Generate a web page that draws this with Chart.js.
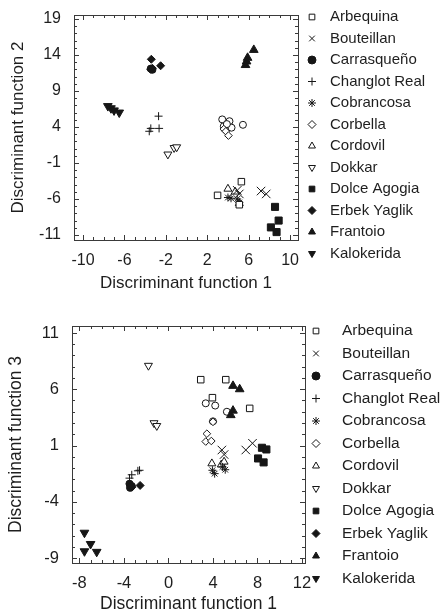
<!DOCTYPE html>
<html>
<head>
<meta charset="utf-8">
<script src="https://cdn.jsdelivr.net/npm/chart.js@4.4.1/dist/chart.umd.min.js"></script>
<style>
  html, body { margin: 0; padding: 0; background: #fff; }
  .panel { position: absolute; left: 0; width: 440px; }
  #top { top: 0; height: 300px; }
  #bottom { top: 300px; height: 316px; }
</style>
</head>
<body>
<div class="panel" id="top"><canvas id="chart1" width="440" height="300"></canvas></div>
<div class="panel" id="bottom"><canvas id="chart2" width="440" height="316"></canvas></div>
<script>
const varieties = ['Arbequina', 'Bouteillan', 'Carrasqueño', 'Changlot Real', 'Cobrancosa', 'Corbella',
    'Cordovil', 'Dokkar', 'Dolce Agogia', 'Erbek Yaglik', 'Frantoio', 'Kalokerida'];

// discriminant function 1 (x) vs function 2 (y)
const p1Arbequina = [[3.0, -5.5], [5.3, -3.6], [5.1, -6.8]];
const p1Bouteillan = [[4.9, -4.8], [5.1, -5.3], [7.2, -4.9], [7.7, -5.3]];
const p1Carrasqueno = [[-3.45, 12.1], [-3.3, 11.95]];
const p1Changlot = [[-2.7, 5.5], [-3.45, 3.8], [-2.65, 3.8], [-3.6, 3.4]];
const p1Cobrancosa = [[4.0, -5.8], [4.3, -5.9], [4.9, -6.0], [5.1, -6.5]];
const p1Corbella = [[3.6, 3.7], [3.8, 3.4], [4.05, 2.8]];
const p1Cordovil = [[4.0, -4.6], [4.7, -5.0], [5.1, -6.6]];
const p1Dokkar = [[-1.8, 0.2], [-1.2, 1.1], [-0.95, 1.2]];
const p1Dolce = [[8.55, -7.1], [8.9, -9.0], [8.15, -9.95], [8.7, -10.6]];
const p1Erbek = [[-3.4, 13.4], [-3.45, 12.0], [-3.3, 12.15], [-2.5, 12.5]];
const p1Frantoio = [[6.5, 14.7], [5.9, 13.6], [5.8, 13.1], [5.7, 12.6]];
const p1Kalokerida = [[-7.6, 6.9], [-7.3, 6.6], [-7.0, 6.3], [-6.5, 6.0]];
const p1OpenCircles = [[3.45, 5.05], [4.15, 4.8], [3.6, 4.1], [4.35, 3.9], [5.45, 4.3], [3.9, 4.4]];

// discriminant function 1 (x) vs function 3 (y)
const p2Arbequina = [[2.9, 6.85], [5.15, 6.85], [3.95, 5.25], [7.3, 4.3]];
const p2Bouteillan = [[4.8, 0.6], [5.0, 0.2], [6.95, 0.6], [7.55, 1.2]];
const p2Carrasqueno = [[-3.5, -2.4], [-3.45, -2.75], [-3.3, -2.6]];
const p2Changlot = [[-3.5, -1.9], [-3.3, -1.6], [-2.75, -1.25], [-2.6, -1.2]];
const p2Cobrancosa = [[3.95, -1.2], [4.15, -1.5], [4.85, -0.9], [5.1, -1.15]];
const p2Corbella = [[3.45, 2.05], [3.35, 1.35], [3.85, 1.4], [4.0, 3.1]];
const p2Cordovil = [[3.9, -0.6], [4.75, -0.7], [5.0, -0.45]];
const p2Dokkar = [[-1.8, 8.1], [-1.3, 3.0], [-1.05, 2.75]];
const p2Dolce = [[8.4, 0.8], [8.8, 0.65], [8.05, -0.15], [8.55, -0.5]];
const p2Erbek = [[-2.55, -2.55], [-3.4, -2.5], [-3.3, -2.7]];
const p2Frantoio = [[5.8, 6.3], [6.4, 6.0], [5.8, 4.1], [5.6, 3.7]];
const p2Kalokerida = [[-7.55, -6.75], [-7.0, -7.75], [-7.55, -8.4], [-6.45, -8.45]];
const p2OpenCircles = [[3.35, 4.75], [4.2, 4.55], [5.25, 4.0], [4.0, 3.15]];

const p1XTicks = [-10, -6, -2, 2, 6, 10];
const p1YTicks = [-11, -6, -1, 4, 9, 14, 19];
const p2XTicks = [-8, -4, 0, 4, 8, 12];
const p2YTicks = [-9, -4, 1, 6, 11];

const ink = '#161616';
const textColour = '#1e1e1e';
const frameColour = '#3a3a3a';
const family = '"Liberation Sans", Arial, sans-serif';

// marker per variety: chart.js point style, filled or open, radius in the plot
const markers = {
    'Arbequina': { style: 'rect', filled: false, r: 4.6 },
    'Bouteillan': { style: 'crossRot', filled: false, r: 6 },
    'Carrasqueño': { style: 'circle', filled: true, r: 3.6 },
    'Changlot Real': { style: 'cross', filled: false, r: 4 },
    'Cobrancosa': { style: 'star', filled: false, r: 4 },
    'Corbella': { style: 'rectRot', filled: false, r: 3.8 },
    'Cordovil': { style: 'triangle', filled: false, r: 4.6 },
    'Dokkar': { style: 'triangle', filled: false, r: 4.6, rot: 180 },
    'Dolce Agogia': { style: 'rect', filled: true, r: 5 },
    'Erbek Yaglik': { style: 'rectRot', filled: true, r: 4 },
    'Frantoio': { style: 'triangle', filled: true, r: 5 },
    'Kalokerida': { style: 'triangle', filled: true, r: 5, rot: 180 }
};

const toXY = (pts) => pts.map(([x, y]) => ({ x, y }));

const buildDatasets = (lists, openCircles) => {
    const sets = varieties.map((name, i) => {
        const m = markers[name];
        return {
            label: name,
            data: toXY(lists[i]),
            pointStyle: m.style,
            pointRotation: m.rot || 0,
            pointRadius: m.r,
            pointHoverRadius: m.r,
            backgroundColor: m.filled ? ink : '#fff',
            borderColor: ink,
            borderWidth: 1
        };
    });
    sets.push({
        label: '',
        data: toXY(openCircles),
        pointStyle: 'circle',
        pointRadius: 3.5,
        backgroundColor: '#fff',
        borderColor: ink,
        borderWidth: 1
    });
    return sets;
};

// box around the plot with inward ticks on all four sides
const framePlugin = {
    id: 'frame',
    beforeDatasetsDraw(chart, args, opts) {
        const { ctx, chartArea: a, scales: { x, y } } = chart;
        ctx.save();
        ctx.strokeStyle = frameColour;
        ctx.lineWidth = 1;
        ctx.strokeRect(Math.round(a.left) + 0.5, Math.round(a.top) + 0.5,
            Math.round(a.right - a.left), Math.round(a.bottom - a.top));
        ctx.beginPath();
        for (let v = Math.ceil(x.min); v <= x.max; v++) {
            const px = Math.round(x.getPixelForValue(v)) + 0.5;
            const len = opts.xMajor.includes(v) ? 5 : 3;
            ctx.moveTo(px, a.bottom); ctx.lineTo(px, a.bottom - len);
            ctx.moveTo(px, a.top); ctx.lineTo(px, a.top + len);
        }
        for (let v = Math.ceil(y.min); v <= y.max; v++) {
            const py = Math.round(y.getPixelForValue(v)) + 0.5;
            const len = opts.yMajor.includes(v) ? 5 : 3;
            ctx.moveTo(a.left, py); ctx.lineTo(a.left + len, py);
            ctx.moveTo(a.right, py); ctx.lineTo(a.right - len, py);
        }
        ctx.stroke();
        ctx.restore();
    }
};

// legend column to the right of the plot
const sideLegend = {
    id: 'sideLegend',
    afterDraw(chart, args, opts) {
        const ctx = chart.ctx;
        let k = 0;
        ctx.save();
        chart.data.datasets.forEach((ds) => {
            if (!ds.label) return;
            const y = opts.top + k * opts.step;
            ctx.fillStyle = ds.backgroundColor;
            ctx.strokeStyle = ds.borderColor;
            ctx.lineWidth = 1;
            Chart.helpers.drawPoint(ctx, {
                pointStyle: ds.pointStyle,
                rotation: ds.pointRotation,
                radius: opts.radius,
                borderWidth: 1
            }, opts.markerX, y);
            ctx.fillStyle = textColour;
            ctx.font = opts.fontSize + 'px ' + family;
            ctx.textBaseline = 'middle';
            ctx.textAlign = 'left';
            ctx.fillText(ds.label, opts.textX, y);
            k++;
        });
        ctx.restore();
    }
};

const makeChart = (canvasId, cfg) => {
    const tickFont = { family, size: cfg.tickSize };
    const titleFont = { family, size: cfg.titleSize };
    return new Chart(document.getElementById(canvasId), {
        type: 'scatter',
        data: { datasets: buildDatasets(cfg.lists, cfg.openCircles) },
        options: {
            responsive: false,
            animation: false,
            layout: { padding: { left: 0, top: 0, right: cfg.rightPad, bottom: 0 } },
            plugins: {
                legend: { display: false },
                tooltip: { enabled: false },
                frame: { xMajor: cfg.xTicks, yMajor: cfg.yTicks },
                sideLegend: cfg.legend
            },
            scales: {
                x: {
                    type: 'linear',
                    min: cfg.xMin,
                    max: cfg.xMax,
                    afterBuildTicks: (s) => { s.ticks = cfg.xTicks.map((v) => ({ value: v })); },
                    afterFit: (s) => { s.height = cfg.xAxisHeight; },
                    grid: { display: false },
                    border: { display: false },
                    ticks: { font: tickFont, color: textColour, padding: cfg.xTickPad, autoSkip: false, maxRotation: 0 },
                    title: {
                        display: true, text: 'Discriminant function 1', font: titleFont, color: textColour,
                        padding: { top: 0, bottom: cfg.xTitlePad }
                    }
                },
                y: {
                    type: 'linear',
                    min: cfg.yMin,
                    max: cfg.yMax,
                    afterBuildTicks: (s) => { s.ticks = cfg.yTicks.map((v) => ({ value: v })); },
                    afterFit: (s) => { s.width = cfg.yAxisWidth; s.paddingTop = cfg.areaTop; },
                    grid: { display: false },
                    border: { display: false },
                    ticks: { font: tickFont, color: textColour, padding: 5, autoSkip: false },
                    title: {
                        display: true, text: cfg.yTitle, font: titleFont, color: textColour,
                        padding: { top: cfg.yTitlePad, bottom: 0 }
                    }
                }
            }
        },
        plugins: [framePlugin, sideLegend]
    });
};

makeChart('chart1', {
    lists: [p1Arbequina, p1Bouteillan, p1Carrasqueno, p1Changlot, p1Cobrancosa, p1Corbella,
        p1Cordovil, p1Dokkar, p1Dolce, p1Erbek, p1Frantoio, p1Kalokerida],
    openCircles: p1OpenCircles,
    xTicks: p1XTicks, yTicks: p1YTicks,
    xMin: -10.87, xMax: 10.77, yMin: -11.7, yMax: 19.55,
    yTitle: 'Discriminant function 2',
    tickSize: 16, titleSize: 17,
    rightPad: 142, xAxisHeight: 60, yAxisWidth: 74, areaTop: 15,
    xTickPad: 3, xTitlePad: 6, yTitlePad: 8,
    legend: { markerX: 312, textX: 330, top: 17, step: 21.5, radius: 4, fontSize: 15 }
});

makeChart('chart2', {
    lists: [p2Arbequina, p2Bouteillan, p2Carrasqueno, p2Changlot, p2Cobrancosa, p2Corbella,
        p2Cordovil, p2Dokkar, p2Dolce, p2Erbek, p2Frantoio, p2Kalokerida],
    openCircles: p2OpenCircles,
    xTicks: p2XTicks, yTicks: p2YTicks,
    xMin: -8.67, xMax: 12.27, yMin: -9.44, yMax: 11.62,
    yTitle: 'Discriminant function 3',
    tickSize: 16.5, titleSize: 17.5,
    rightPad: 135, xAxisHeight: 53, yAxisWidth: 72, areaTop: 26,
    xTickPad: 3, xTitlePad: 1, yTitlePad: 6,
    legend: { markerX: 316, textX: 342, top: 31, step: 22.5, radius: 4, fontSize: 15.5 }
});
</script>
</body>
</html>
